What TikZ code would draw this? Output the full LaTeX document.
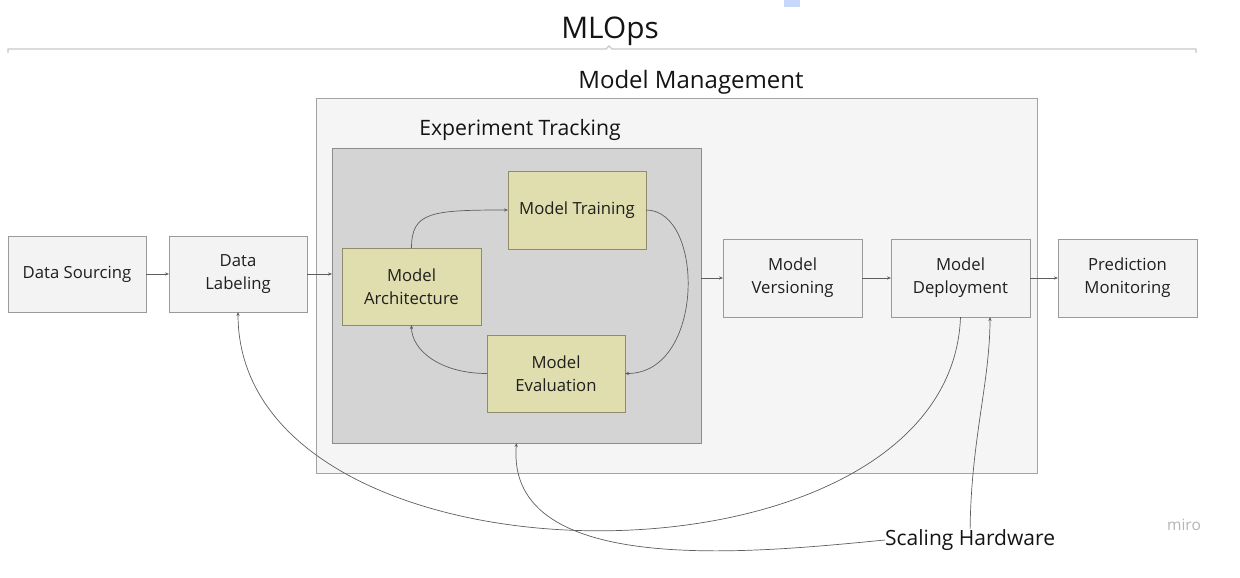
\documentclass[tikz,border=0pt]{standalone}
\usepackage{fontspec}
\setmainfont{Open Sans}
\usetikzlibrary{arrows.meta}
\definecolor{boxfill}{HTML}{F3F3F3}
\definecolor{boxline}{HTML}{9A9A9A}
\definecolor{khaki}{HTML}{E0DEAE}
\definecolor{khakiline}{HTML}{8E8C6A}
\definecolor{etfill}{HTML}{D4D4D4}
\definecolor{etline}{HTML}{8C8C8C}
\definecolor{mmfill}{HTML}{F5F5F5}
\definecolor{mmline}{HTML}{A3A3A3}
\definecolor{conn}{HTML}{5E5E5E}
\definecolor{bracket}{HTML}{C8C8C8}
\definecolor{selblue}{HTML}{C7D7FB}
\definecolor{miro}{HTML}{B4B4B4}
\tikzset{
  stepbox/.style={draw=boxline, fill=boxfill, line width=0.8pt, outer sep=0pt,
    align=center, font=\fontsize{16.7}{23}\selectfont, text=black!88},
  yellowbox/.style={stepbox, draw=khakiline, fill=khaki},
  flow/.style={draw=conn, line width=0.7pt, -{Stealth[length=4pt,width=3.2pt]}},
  title/.style={inner sep=0pt, text=black!92}
}
\begin{document}
\begin{tikzpicture}[x=1pt,y=-1pt]
\useasboundingbox (0,0) rectangle (1240,578);
% selection artefact and top bracket
\fill[selblue] (784,0) rectangle (800,7);
\draw[bracket, line width=1.3pt] (8,53) -- (8,49) -- (606,49) -- (609,46) -- (612,49) -- (1196,49) -- (1196,53);
\node[title, font=\fontsize{29.8}{34}\selectfont] (mlops) at (610,31) {MLOps};
% containers
\node[draw=mmline, fill=mmfill, line width=0.8pt, minimum width=721pt, minimum height=375pt, outer sep=0pt] (mm) at (676.5,285.5) {};
\node[title, font=\fontsize{24}{28}\selectfont] (mmt) at (691,82) {Model Management};
\node[draw=etline, fill=etfill, line width=0.8pt, minimum width=369pt, minimum height=295pt, outer sep=0pt] (et) at (516.5,295.5) {};
\node[title, font=\fontsize{21.2}{25}\selectfont] (ett) at (520,129.5) {Experiment Tracking};
% boxes
\node[stepbox, minimum width=138pt, minimum height=76pt] (ds) at (77,274) {Data Sourcing};
\node[stepbox, minimum width=138pt, minimum height=76pt] (dl) at (238,274) {Data\\Labeling};
\node[yellowbox, minimum width=139pt, minimum height=77pt] (ma) at (411.5,286.5) {Model\\Architecture};
\node[yellowbox, minimum width=138pt, minimum height=78pt] (mt) at (577,210) {Model Training};
\node[yellowbox, minimum width=138pt, minimum height=77pt] (me) at (556,373.5) {Model\\Evaluation};
\node[stepbox, minimum width=139pt, minimum height=78pt] (mv) at (792.5,278) {Model\\Versioning};
\node[stepbox, minimum width=139pt, minimum height=78pt] (md) at (960.5,278) {Model\\Deployment};
\node[stepbox, minimum width=139pt, minimum height=78pt] (pm) at (1127.5,278) {Prediction\\Monitoring};
\node[title, anchor=west, font=\fontsize{21}{25}\selectfont] (sh) at (885,540) {Scaling Hardware};
\node[title, text=miro, font=\fontsize{15.5}{18}\selectfont] (wm) at (1184,525) {miro};
% straight connectors
\draw[flow] (ds) -- (dl);
\draw[flow] (dl.east) -- (dl.east -| et.west);
\draw[flow] (et.east |- mv.west) -- (mv.west);
\draw[flow] (mv) -- (md);
\draw[flow] (md) -- (pm);
% loop inside experiment tracking
\draw[flow] (ma.north) .. controls +(0,-36) and +(-77,0) .. (mt.west);
\draw[flow] (mt.east) .. controls +(59,0) and +(80,0) .. (me.east);
\draw[flow] (me.west) .. controls +(-47,0) and +(0,25) .. (ma.south);
% long curves
\draw[flow] (md.south) .. controls (950,605) and (238,600) .. (dl.south);
\draw[flow] (sh.west) .. controls (760,552) and (505,580) .. (et.south);
\draw[flow] (sh.north) .. controls +(1,-90) and +(0,65) .. ([xshift=29.5pt]md.south);
\end{tikzpicture}
\end{document}
